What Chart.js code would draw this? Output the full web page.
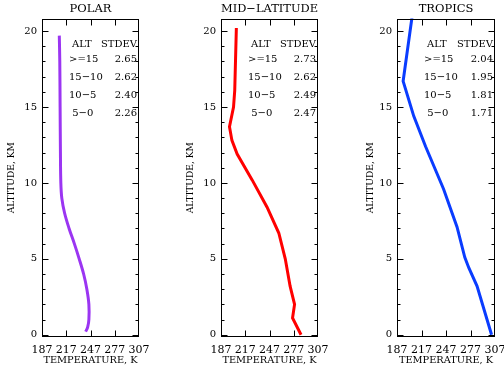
<!DOCTYPE html>
<html><head><meta charset="utf-8">
<script src="https://cdn.jsdelivr.net/npm/chart.js@4.4.0/dist/chart.umd.min.js"></script>
<style>
html,body{margin:0;padding:0;background:#fff;overflow:hidden;width:504px;height:371px;position:relative}
canvas{position:absolute;top:0}
</style></head><body>
<canvas id="polar"></canvas><canvas id="mid"></canvas><canvas id="trop"></canvas>
<script>
// axis ticks
const altTicks=[0,5,10,15,20];
const tempTicks=[187,217,247,277,307];
const bands=['>=15','15\u221210','10\u22125',' 5\u22120'];

// POLAR
const polarAlt=[0.2,0.5,1,2,3,4,5,6,7,8,9,10,12,15,18,19.7];
const polarTemp=[241,243.5,245,245,242.5,238.5,233,227,220.5,215,211.5,210.3,209.8,209.4,209,208.4];
const polarStd=['2.65','2.62','2.40','2.26'];

// MID-LATITUDE
const midAlt=[0,1.1,2.0,3.2,5,6.7,8.4,10.2,11.9,12.8,13.7,15,16.1,20.2];
const midTemp=[286,275.5,278,272.5,266.5,258.5,244,225.5,207,200.5,197.5,202.5,204,206];
const midStd=['2.73','2.62','2.49','2.47'];

// TROPICS
const tropAlt=[0,3.2,4.4,5.1,7.1,9.6,12.4,14.4,16.7,21];
const tropTemp=[302.8,285,275,270,260.5,244,222,207.5,194.5,205.6];
const tropStd=['2.04','1.95','1.81','1.71'];

const FONT='"DejaVu Serif", serif';

const panels=[
  {id:'polar',title:'POLAR',alt:polarAlt,temp:polarTemp,std:polarStd,color:'#9b35f2',tension:0.35,left:6,axisW:36,plotW:97},
  {id:'mid',title:'MID\u2212LATITUDE',alt:midAlt,temp:midTemp,std:midStd,color:'#ff0000',tension:0,left:185,axisW:36,plotW:97},
  {id:'trop',title:'TROPICS',alt:tropAlt,temp:tropTemp,std:tropStd,color:'#0a3cff',tension:0,left:365,axisW:32,plotW:98}
];

// frame + inward tick marks
const frame={id:'frame',afterDraw(c){
  const {ctx,chartArea:a,scales:{x,y}}=c;
  const L=Math.round(a.left)+0.5,R=Math.round(a.right)-0.5,T=Math.round(a.top)+0.5,B=Math.round(a.bottom)-0.5;
  ctx.save();
  ctx.strokeStyle='#000';ctx.lineWidth=1;
  ctx.strokeRect(L,T,R-L,B-T);
  ctx.beginPath();
  for(let v=0;v<=20;v++){
    const py=Math.round(y.getPixelForValue(v))+0.5;
    const len=v%5===0?6:3;
    ctx.moveTo(L,py);ctx.lineTo(L+len,py);
    ctx.moveTo(R,py);ctx.lineTo(R-len,py);
  }
  tempTicks.slice(1,-1).forEach(t=>{
    const px=Math.round(x.getPixelForValue(t))+0.5;
    ctx.moveTo(px,B);ctx.lineTo(px,B-6);
    ctx.moveTo(px,T);ctx.lineTo(px,T+6);
  });
  ctx.stroke();
  ctx.restore();
}};

// ALT / STDEV table
const table={id:'table',afterDraw(c,args,opts){
  const {ctx,chartArea:a}=c;
  ctx.save();
  ctx.fillStyle='#000';
  ctx.font='10px '+FONT;
  ctx.textBaseline='middle';
  ctx.textAlign='left';
  ctx.fillText('ALT',a.left+30,a.top+25.5);
  ctx.textAlign='right';
  ctx.fillText('STDEV',a.right-2,a.top+25.5);
  opts.std.forEach((s,i)=>{
    const yy=a.top+40.5+18*i;
    ctx.textAlign='left';
    ctx.fillText(bands[i],a.left+27,yy);
    ctx.textAlign='right';
    ctx.fillText(s,a.right-2,yy);
  });
  ctx.restore();
}};

panels.forEach(p=>{
  const cv=document.getElementById(p.id);
  const padR=22;
  cv.width=p.axisW+p.plotW+padR;
  cv.height=371;
  cv.style.left=p.left+'px';
  new Chart(cv,{
    type:'line',
    data:{datasets:[{
      data:p.alt.map((a,i)=>({x:p.temp[i],y:a})),
      borderColor:p.color,borderWidth:3,pointRadius:0,tension:p.tension,fill:false
    }]},
    options:{
      responsive:false,animation:false,devicePixelRatio:1,
      layout:{padding:{left:0,right:padR,top:0,bottom:0}},
      plugins:{
        legend:{display:false},tooltip:{enabled:false},
        title:{display:true,text:p.title,fullSize:false,color:'#000',
          font:{family:FONT,size:11.5,weight:'normal'},padding:{top:2.6,bottom:2.1}},
        table:{std:p.std}
      },
      scales:{
        x:{type:'linear',min:187,max:307,
          afterBuildTicks:s=>{s.ticks=tempTicks.map(v=>({value:v}));},
          grid:{display:false,drawTicks:false},border:{display:false},
          ticks:{padding:6.5,color:'#000',maxRotation:0,autoSkip:false,font:{family:FONT,size:11}},
          title:{display:true,text:'TEMPERATURE, K',color:'#000',font:{family:FONT,size:9.8},padding:{top:0,bottom:4.5}},
          afterFit:s=>{s.height=34;}},
        y:{type:'linear',min:-0.15,max:20.83,
          afterBuildTicks:s=>{s.ticks=altTicks.map(v=>({value:v}));},
          grid:{display:false,drawTicks:false},border:{display:false},
          ticks:{padding:5,color:'#000',font:{family:FONT,size:10}},
          title:{display:true,text:'ALTITUDE, KM',color:'#000',font:{family:FONT,size:9.1},padding:0},
          afterFit:s=>{s.width=p.axisW;}}
      }
    },
    plugins:[frame,table]
  });
});
</script>
</body></html>
